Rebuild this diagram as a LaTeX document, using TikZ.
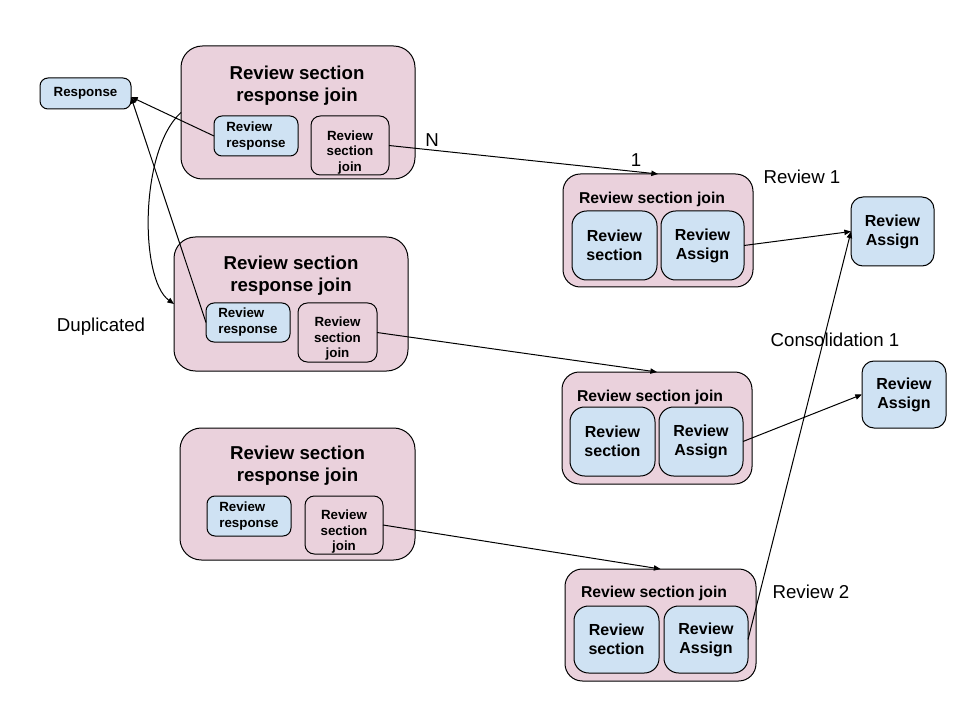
\documentclass[tikz,border=0pt]{standalone}
\usepackage{fontspec}
\setmainfont{Liberation Sans}
\usetikzlibrary{arrows.meta}
\definecolor{pinkfill}{HTML}{EAD1DC}
\definecolor{bluefill}{HTML}{CFE2F3}
\tikzset{
  sz/.style 2 args={minimum width=#1*0.75pt, minimum height=#2*0.75pt},
  base/.style={draw=black, line width=0.75pt, inner sep=0pt, outer sep=0pt},
  bigbox/.style={base, fill=pinkfill, rounded corners=16pt},
  rsjbox/.style={base, fill=pinkfill, rounded corners=13pt},
  sjbox/.style={base, fill=pinkfill, rounded corners=7pt},
  rrbox/.style={base, fill=bluefill, rounded corners=6pt, align=left, font=\fontsize{10}{12}\selectfont\bfseries},
  bluebox/.style={base, fill=bluefill, rounded corners=11pt, align=center, font=\fontsize{12}{14.25}\selectfont\bfseries},
  rabox/.style={base, fill=bluefill, rounded corners=9pt, align=center, font=\fontsize{12}{14.25}\selectfont\bfseries},
  bigtitle/.style={align=center, inner sep=0pt, font=\fontsize{14}{16.5}\selectfont\bfseries},
  rsjtitle/.style={inner sep=0pt, font=\fontsize{11.8}{13}\selectfont\bfseries},
  sjtext/.style={align=center, inner sep=0pt, font=\fontsize{10}{11.6}\selectfont\bfseries},
  lbl/.style={inner sep=0pt, font=\fontsize{14}{16}\selectfont},
  conn/.style={line width=0.75pt, -{Triangle[length=5pt,width=4pt]}},
}
\begin{document}
\begin{tikzpicture}[x=0.75pt,y=-0.75pt]
\fill[white] (0,0) rectangle (960,720);
\useasboundingbox (0,0) rectangle (960,720);

% Response
\node[base, fill=bluefill, rounded corners=6pt, sz={91}{31}, font=\fontsize{10}{12}\selectfont\bfseries] (resp) at (85.5,93.5) {Response};

% Review section response join boxes
\node[bigbox, sz={234}{133}] (rsrj1) at (298,112.5) {};
\node[bigtitle] (rsrj1t) at (297,86) {Review section\\response join};
\node[rrbox, sz={84}{40}] (rr1) at (256,136) {Review\\response};
\node[sjbox, sz={78}{59}] (sj1) at (350,145.5) {};
\node[sjtext] (sj1t) at (350,152.5) {Review\\section\\join};

\node[bigbox, sz={234}{134}] (rsrj2) at (291,304) {};
\node[bigtitle] (rsrj2t) at (291,276) {Review section\\response join};
\node[rrbox, sz={84}{39}] (rr2) at (248,322.5) {Review\\response};
\node[sjbox, sz={79}{59}] (sj2) at (337.5,332.5) {};
\node[sjtext] (sj2t) at (337.5,339) {Review\\section\\join};

\node[bigbox, sz={235}{132}] (rsrj3) at (297.5,494) {};
\node[bigtitle] (rsrj3t) at (297.5,466) {Review section\\response join};
\node[rrbox, sz={84}{40}] (rr3) at (249,516) {Review\\response};
\node[sjbox, sz={78}{58}] (sj3) at (344,525) {};
\node[sjtext] (sj3t) at (344,532) {Review\\section\\join};

% Review section join boxes
\node[rsjbox, sz={190}{113}] (rsj1) at (658,230.5) {};
\node[rsjtitle] (rsj1t) at (652,199) {Review section join};
\node[bluebox, sz={85}{69}] (rs1) at (614.5,245.5) {Review\\section};
\node[bluebox, sz={83}{69}] (ra1) at (702.5,245.5) {Review\\Assign};

\node[rsjbox, sz={190}{112}] (rsj2) at (657,428) {};
\node[rsjtitle] (rsj2t) at (650,397) {Review section join};
\node[bluebox, sz={85}{69}] (rs2) at (612.5,441.5) {Review\\section};
\node[bluebox, sz={84}{69}] (ra2) at (701,441.5) {Review\\Assign};

\node[rsjbox, sz={191}{112}] (rsj3) at (660.5,625) {};
\node[rsjtitle] (rsj3t) at (654,593) {Review section join};
\node[bluebox, sz={85}{67}] (rs3) at (616.5,639.5) {Review\\section};
\node[bluebox, sz={84}{67}] (ra3) at (706,639.5) {Review\\Assign};

% Right Review Assign boxes
\node[rabox, sz={83}{69}] (rA1) at (892.5,231.5) {Review\\Assign};
\node[rabox, sz={84}{67}] (rA2) at (904,394.5) {Review\\Assign};

% Labels
\node[lbl] (dup) at (101,327) {Duplicated};
\node[lbl] (lN) at (432,140) {N};
\node[lbl] (l1) at (636,160) {1};
\node[lbl] (rev1) at (802,177) {Review 1};
\node[lbl] (cons1) at (835,340) {Consolidation 1};
\node[lbl] (rev2) at (811,592) {Review 2};

% Connectors
\draw[conn] (rr1.west) -- ([yshift=-2.6pt]resp.east);
\draw[conn] (rr2.west) -- ([yshift=-2.6pt]resp.east);
\draw[conn] (rsrj1.west) .. controls (139.5,150) and (139.5,279) .. (rsrj2.west);
\draw[conn] (sj1.east) -- (rsj1.north);
\draw[conn] (sj2.east) -- (rsj2.north);
\draw[conn] (sj3.east) -- (rsj3.north);
\draw[conn] (ra1.east) -- (rA1.west);
\draw[conn] (ra2.east) -- (rA2.west);
\draw[conn] (ra3.east) -- (rA1.west);
\end{tikzpicture}
\end{document}
